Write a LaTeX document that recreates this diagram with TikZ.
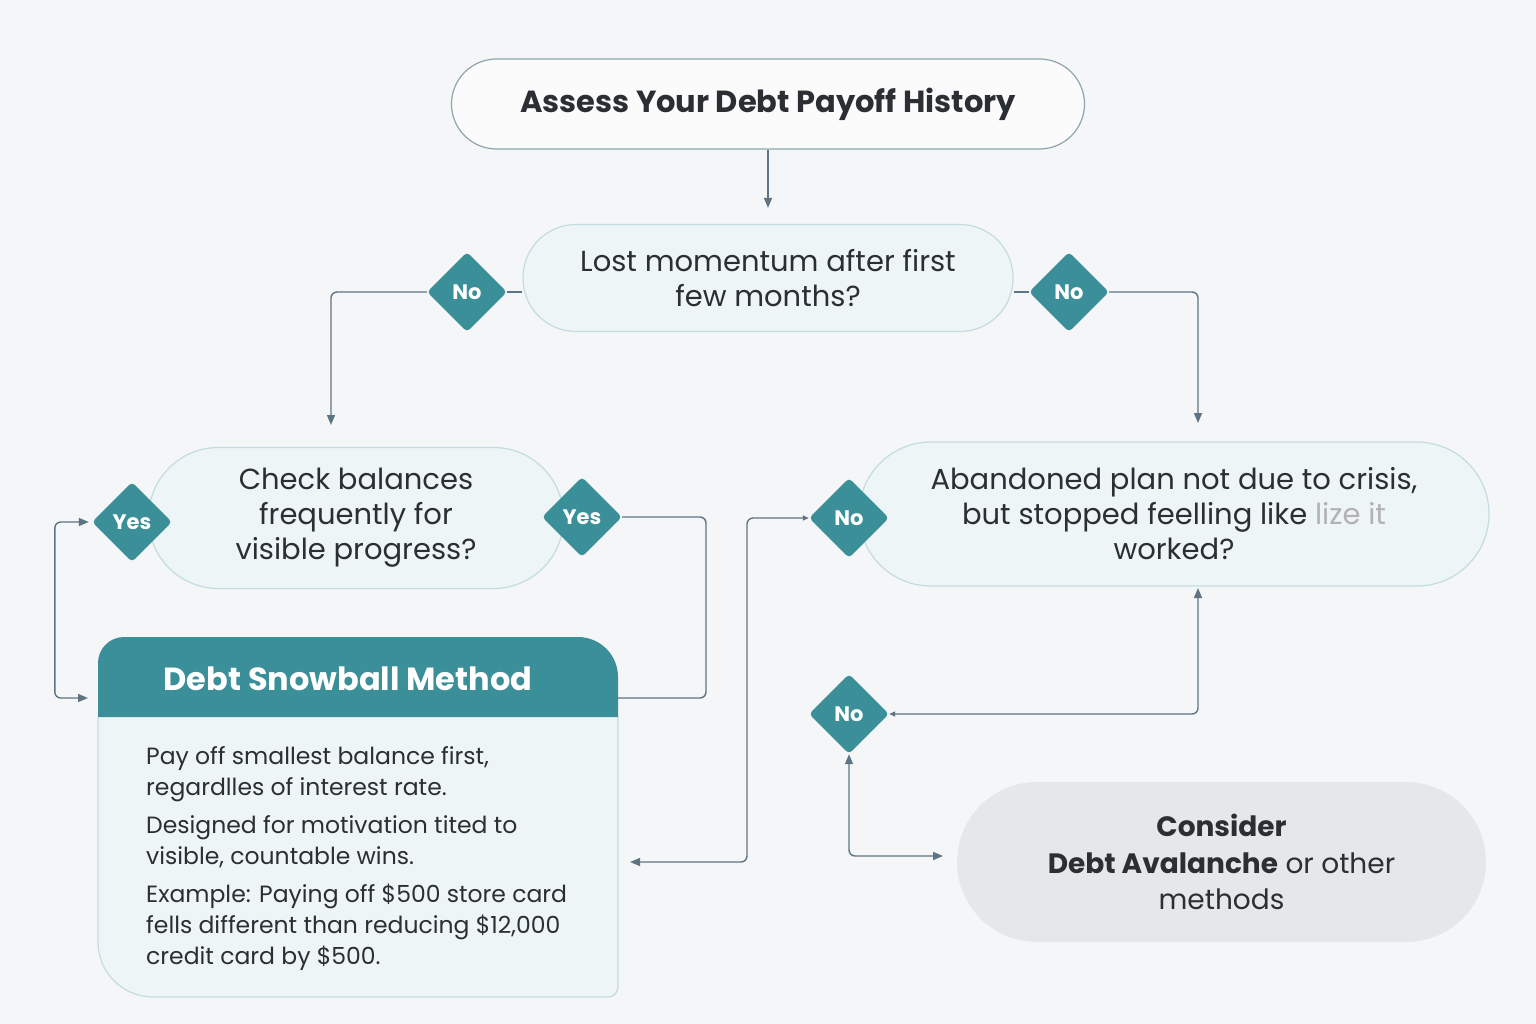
\documentclass[tikz,border=0pt]{standalone}
\usepackage{fontspec}
\setmainfont{Poppins}
\usetikzlibrary{arrows.meta,shapes.geometric,positioning}

\definecolor{tealmain}{HTML}{3B8F98}
\definecolor{linecol}{HTML}{5E7482}
\definecolor{qfill}{HTML}{EEF5F6}
\definecolor{qborder}{HTML}{C3DCDF}
\definecolor{bgcol}{HTML}{F5F6F7}
\definecolor{txtcol}{HTML}{2B2F33}
\definecolor{greyfill}{HTML}{E6E7E9}
\definecolor{titleborder}{HTML}{8FA5AC}

\tikzset{
  qbox/.style={draw=qborder, fill=qfill, line width=1.2pt, align=center,
    text=txtcol, font=\fontsize{29}{35}\selectfont, inner sep=0pt},
  dia/.style={diamond, aspect=1, fill=tealmain, text=white, inner sep=0pt,
    minimum width=80pt, minimum height=80pt, rounded corners=4pt,
    font=\bfseries\fontsize{21}{24}\selectfont},
  flow/.style={draw=linecol, line width=1.4pt, rounded corners=6pt},
  tip/.tip={Triangle[length=10pt,width=8pt]},
  smalltip/.tip={Triangle[length=6pt,width=5pt]}
}

\begin{document}
\begin{tikzpicture}[x=1pt,y=-1pt]
    \fill [bgcol] (0,0) rectangle (1536,1024);
    \useasboundingbox (0,0) rectangle (1536,1024);
    % boxes
    \node [draw=titleborder, fill=white!60!bgcol, line width=1.2pt, rounded corners=45pt,
      minimum width=633pt, minimum height=90pt, text=txtcol,
      font=\bfseries\fontsize{30.5}{36}\selectfont] (title) at (768,104) {Assess Your Debt Payoff History};
    \node [qbox, minimum width=490pt, minimum height=107pt, rounded corners=53pt] (q1) at (768,278)
      {Lost momentum after first\\few months?};
    \node [qbox, minimum width=415pt, minimum height=141pt, rounded corners=70pt] (q2) at (356,518)
      {Check balances\\frequently for\\visible progress?};
    \node [qbox, minimum width=630pt, minimum height=144pt, rounded corners=72pt] (q3) at (1174,514)
      {Abandoned plan not due to crisis,\\but stopped feelling like {\color{gray!60}lize it}\\worked?};
    \node [fill=greyfill, rounded corners=80pt, minimum width=529pt, minimum height=160pt,
      align=center, text=txtcol, font=\fontsize{28}{36.5}\selectfont] (avalanche) at (1221.5,862)
      {\textbf{Consider}\\\textbf{Debt Avalanche} or other\\methods};
    % snowball card
    \node [minimum width=520pt, minimum height=360pt, inner sep=0pt] (snow) at (358,817) {};
    \path [draw=qborder, fill=qfill, line width=1.2pt] (98,717) [rounded corners=55pt] -- (98,997)
      [rounded corners=10pt] -- (618,997) [sharp corners] -- (618,717);
    \fill [tealmain] (98,717) [rounded corners=26pt] -- (98,637) [rounded corners=40pt] -- (618,637)
      [sharp corners] -- (618,717) -- cycle;
    \node [text=white, font=\bfseries\fontsize{32}{38}\selectfont] (snowhead) at (348,679) {Debt Snowball Method};
    \node [anchor=north west, align=left, inner sep=0pt, text=txtcol,
      font=\fontsize{23.5}{31}\selectfont] (snowtext) at (146,746)
      {Pay off smallest balance first,\\regardlles of interest rate.\\[7pt]
       Designed for motivation tited to\\visible, countable wins.\\[7pt]
       Example: Paying off \$500 store card\\fells different than reducing \$12,000\\credit card by \$500.};
    % diamonds
    \node [dia] (noL) at (467,292) {No};
    \node [dia] (noR) at (1069,292) {No};
    \node [dia] (yesL) at (132,522) {Yes};
    \node [dia] (yesR) at (582,517) {Yes};
    \node [dia] (noQ3) at (849,518) {No};
    \node [dia] (noLow) at (849,714) {No};
    % bends and free ends
    \coordinate (l1) at (331,425);
    \coordinate (r1) at (1198,423);
    \coordinate (s1) at (88,698);
    \coordinate (c1) at (706,698);
    \coordinate (c2) at (747,862);
    \coordinate (s2) at (630,862);
    \coordinate (c3) at (1198,588);
    \coordinate (c4) at (943,856);
    % connectors
    \draw [flow,-tip,shorten >=16pt] (title) -- (q1);
    \draw [flow] (noL.east) -- (noL.east -| q1.west);
    \draw [flow,-tip] (noL.west) -| (l1);
    \draw [flow] (noR.west) -- (noR.west -| q1.east);
    \draw [flow,-tip] (noR.east) -| (r1);
    \draw [flow,tip-tip,shorten <=3pt] (yesL.west) -- ++(-37,0) |- (s1);
    \draw [flow] (yesR.east) -| (c1) -- (c1 -| snow.east);
    \draw [flow,smalltip-tip] (noQ3.west) -| (c2) -- (s2);
    \draw [flow,smalltip-tip] (noLow.east) -| (c3);
    \draw [flow,tip-tip] (noLow.south) |- (c4);
\end{tikzpicture}
\end{document}
